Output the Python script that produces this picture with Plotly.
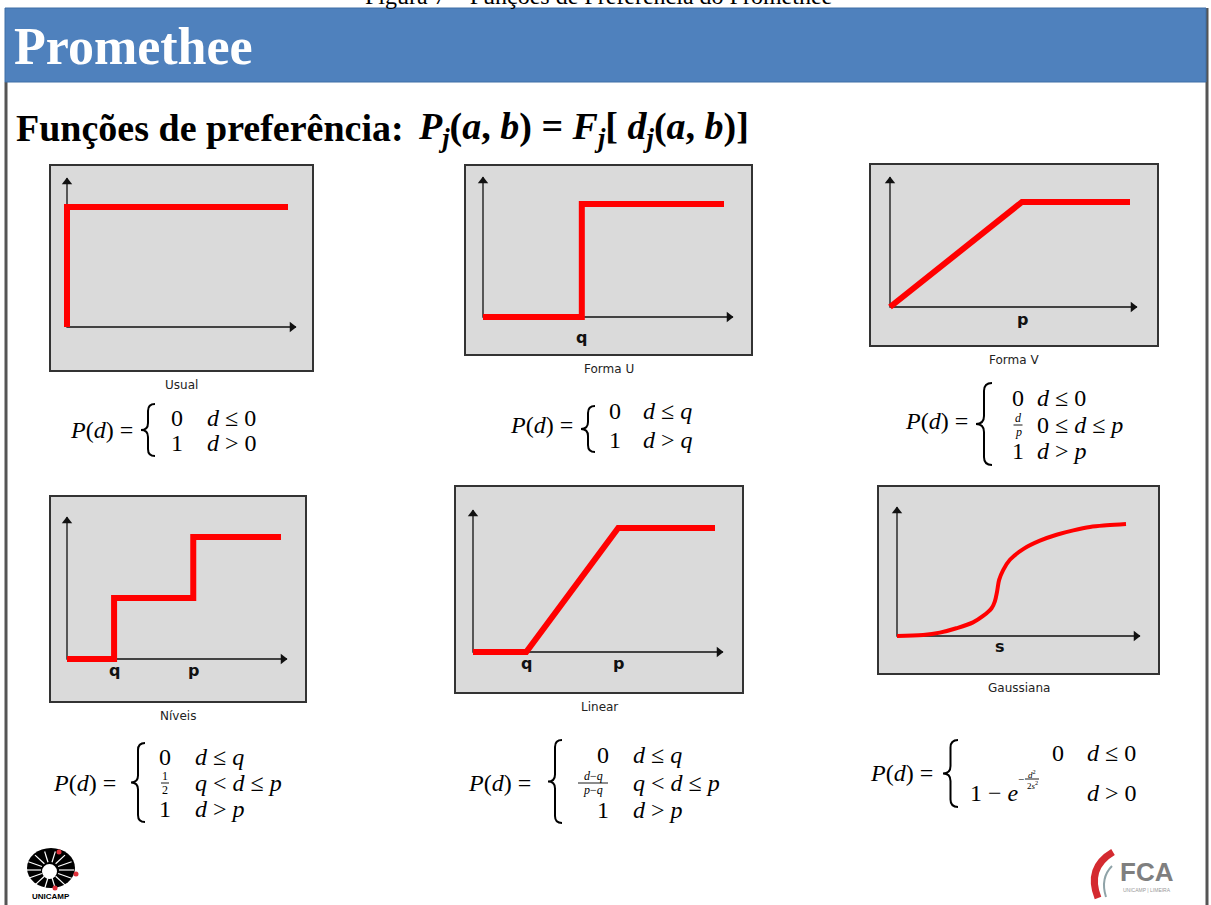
import numpy as np
import plotly.graph_objects as go

W, H = 1211, 905

# preference functions P(d): d in arbitrary units (0..10), P from 0 to 1
usual_d = [0, 0, 10]
usual_p = [0, 1, 1]
formaU_d = [0, 4.1, 4.1, 10]
formaU_p = [0, 0, 1, 1]
formaV_d = [0, 5.5, 10]
formaV_p = [0, 1, 1]
niveis_d = [0, 2.2, 2.2, 5.9, 5.9, 10]
niveis_p = [0, 0, 0.5, 0.5, 1, 1]
linear_d = [0, 2.2, 6.0, 10]
linear_p = [0, 0, 1, 1]
gauss_d = [0, 1.14, 1.87, 2.59, 3.32, 3.76, 4.13, 4.27, 4.37, 4.46, 4.64, 4.93,
           5.51, 6.24, 6.97, 7.70, 8.43, 9.15, 10]
gauss_p = [0, 0.009, 0.030, 0.069, 0.122, 0.179, 0.248, 0.307, 0.397, 0.501, 0.591, 0.681,
           0.776, 0.851, 0.904, 0.943, 0.973, 0.988, 1.0]

panel_names = ["Usual", "Forma U", "Forma V", "Níveis", "Linear", "Gaussiana"]
tick_labels = [[], ["q"], ["p"], ["q", "p"], ["q", "p"], ["s"]]
tick_at = [[], [4.1], [5.5], [2.2, 5.9], [2.2, 6.0], [4.5]]

series_d = [usual_d, formaU_d, formaV_d, niveis_d, linear_d, gauss_d]
series_p = [usual_p, formaU_p, formaV_p, niveis_p, linear_p, gauss_p]

# pixel layout of each small chart: box, origin, point (dmax, 1), arrow tips, label drop
panels = [
    dict(box=(51, 166, 312, 370), org=(67, 327), one=(288, 207), tip=(296, 178), drop=0),
    dict(box=(466, 166, 751, 354), org=(483, 317), one=(724, 204), tip=(733, 177), drop=9),
    dict(box=(871, 165, 1157, 345), org=(890, 307), one=(1130, 202), tip=(1137, 177), drop=1),
    dict(box=(51, 497, 305, 701), org=(67, 659), one=(281, 537), tip=(287, 517), drop=0),
    dict(box=(456, 487, 742, 692), org=(473, 652), one=(715, 528), tip=(723, 510), drop=0),
    dict(box=(879, 487, 1158, 673), org=(897, 636), one=(1126, 524), tip=(1140, 507), drop=-1),
]

SERIF = "Liberation Serif"
SANS = "DejaVu Sans"
RED = "#ff0000"


def px(x):
    return x / W


def py(y):
    return 1 - y / H


fig = go.Figure()

frame = dict(showline=True, mirror=True, linecolor="#333333", linewidth=1.5,
             showgrid=False, zeroline=False, showticklabels=False, ticks="",
             fixedrange=True)

for i, (d, p, pan) in enumerate(zip(series_d, series_p, panels)):
    s = "" if i == 0 else str(i + 1)
    L, T, R, B = pan["box"]
    ox, oy = pan["org"]
    ux = (pan["one"][0] - ox) / max(d)
    uy = (oy - pan["one"][1]) / max(p)
    tx = (pan["tip"][0] - ox) / ux
    ty = (oy - pan["tip"][1]) / uy
    fig.update_layout({
        f"xaxis{s}": dict(domain=[px(L), px(R)], range=[(L - ox) / ux, (R - ox) / ux],
                          anchor=f"y{s}", **frame),
        f"yaxis{s}": dict(domain=[py(B), py(T)], range=[(oy - B) / uy, (oy - T) / uy],
                          anchor=f"x{s}", **frame),
    })
    xa, ya = f"x{s}", f"y{s}"
    # axes with arrow heads
    fig.add_trace(go.Scatter(x=[tx, 0, 0], y=[0, 0, ty], mode="lines",
                             line=dict(color="#111111", width=1.3),
                             xaxis=xa, yaxis=ya, hoverinfo="skip"))
    fig.add_trace(go.Scatter(x=[tx - 4 / ux, 0], y=[0, ty - 4 / uy], mode="markers",
                             marker=dict(symbol=["triangle-right", "triangle-up"], size=9,
                                         color="#111111"),
                             xaxis=xa, yaxis=ya, hoverinfo="skip"))
    # red preference curve
    smooth = i == 5
    fig.add_trace(go.Scatter(x=d, y=p, mode="lines",
                             line=dict(color=RED, width=4 if smooth else 6,
                                       shape="spline" if smooth else "linear"),
                             xaxis=xa, yaxis=ya, hoverinfo="skip"))
    for lab, at in zip(tick_labels[i], tick_at[i]):
        fig.add_annotation(x=at, y=0, xref=xa, yref=ya, text=f"<b>{lab}</b>",
                           showarrow=False, xanchor="center", yanchor="top",
                           yshift=-pan["drop"],
                           font=dict(size=16, family=SANS, color="#111111"))
    fig.add_annotation(x=px((L + R) / 2), y=py(B + 15), xref="paper", yref="paper",
                       text=panel_names[i], showarrow=False, xanchor="center", yanchor="middle",
                       font=dict(size=12, family=SANS, color="#222222"))


def txt(x, y, s, size=24, xa="left", ya="middle", family=SERIF, color="black"):
    fig.add_annotation(x=px(x), y=py(y), xref="paper", yref="paper", text=s,
                       showarrow=False, xanchor=xa, yanchor=ya,
                       font=dict(size=size, family=family, color=color))


def hline(x0, x1, y, width=1.0, color="black"):
    fig.add_shape(type="line", xref="paper", yref="paper", x0=px(x0), x1=px(x1),
                  y0=py(y), y1=py(y), line=dict(color=color, width=width))


def frac(xc, yc, num, den, size=13, w=8):
    txt(xc, yc - size * 0.55, num, size, xa="center")
    txt(xc, yc + size * 0.62, den, size, xa="center")
    hline(xc - w / 2, xc + w / 2, yc, 0.9)


def pt(x, y):
    return f"{px(x):.5f},{py(y):.5f}"


def brace(x, y0, y1, w=14):
    xm, xr, ym, r = x + w / 2, x + w, (y0 + y1) / 2, w / 2
    path = (f"M {pt(xr, y0)} Q {pt(xm, y0)} {pt(xm, y0 + r)} L {pt(xm, ym - r)} "
            f"Q {pt(xm, ym)} {pt(x, ym)} Q {pt(xm, ym)} {pt(xm, ym + r)} "
            f"L {pt(xm, y1 - r)} Q {pt(xm, y1)} {pt(xr, y1)}")
    fig.add_shape(type="path", xref="paper", yref="paper", path=path,
                  line=dict(color="black", width=2))


PD = "<i>P</i>(<i>d</i>) ="

# Usual
txt(68, 430, PD)
brace(141, 404, 456)
txt(177, 418, "0", xa="center"); txt(205, 418, "<i>d</i> ≤ 0")
txt(177, 443, "1", xa="center"); txt(205, 443, "<i>d</i> > 0")

# Forma U
txt(508, 425, PD)
brace(581, 406, 452)
txt(615, 411, "0", xa="center"); txt(641, 411, "<i>d</i> ≤ <i>q</i>")
txt(615, 440, "1", xa="center"); txt(641, 440, "<i>d</i> > <i>q</i>")

# Forma V
txt(903, 421, PD)
brace(976, 383, 465, 16)
txt(1018, 398, "0", xa="center"); txt(1035, 398, "<i>d</i> ≤ 0")
frac(1018, 425, "<i>d</i>", "<i>p</i>", 12, 9); txt(1035, 425, "0 ≤ <i>d</i> ≤ <i>p</i>")
txt(1018, 451, "1", xa="center"); txt(1035, 451, "<i>d</i> > <i>p</i>")

# Niveis
txt(51, 783, PD)
brace(131, 743, 822)
txt(165, 757, "0", xa="center"); txt(193, 757, "<i>d</i> ≤ <i>q</i>")
frac(165, 783, "1", "2", 12, 8); txt(193, 783, "<i>q</i> < <i>d</i> ≤ <i>p</i>")
txt(165, 809, "1", xa="center"); txt(193, 809, "<i>d</i> > <i>p</i>")

# Linear
txt(466, 783, PD)
brace(548, 740, 823)
txt(611, 755, "0", xa="right"); txt(631, 755, "<i>d</i> ≤ <i>q</i>")
frac(593, 783, "<i>d</i>−<i>q</i>", "<i>p</i>−<i>q</i>", 12, 30)
txt(631, 783, "<i>q</i> < <i>d</i> ≤ <i>p</i>")
txt(611, 810, "1", xa="right"); txt(631, 810, "<i>d</i> > <i>p</i>")

# Gaussiana
txt(868, 773, PD)
brace(943, 740, 807, 15)
txt(1066, 753, "0", xa="right"); txt(1085, 753, "<i>d</i> ≤ 0")
txt(968, 793, "1 − <i>e</i>")
txt(1021, 779, "−", 11, xa="center")
frac(1032, 779, "<i>d</i><sup>2</sup>", "2<i>s</i><sup>2</sup>", 9, 14)
txt(1085, 793, "<i>d</i> > 0")

# slide frame and header
fig.add_shape(type="line", xref="paper", yref="paper", x0=px(6), x1=px(6), y0=py(82), y1=0,
              line=dict(color="#555555", width=3))
fig.add_shape(type="line", xref="paper", yref="paper", x0=px(1207), x1=px(1207), y0=py(8), y1=0,
              line=dict(color="#555555", width=3))
fig.add_shape(type="rect", xref="paper", yref="paper", x0=px(5), x1=px(1206), y0=py(82), y1=py(8),
              fillcolor="#4f81bd", line=dict(color="#3f6fa6", width=1))
txt(598, 11, "Figura 7 – Funções de Preferência do Promethee", 24, xa="center", ya="bottom")
txt(12, 46, "<b>Promethee</b>", 52, color="white")
txt(14, 128, "<b>Funções de preferência:</b>", 38)
txt(416, 129, "<b><i>P</i><sub><i>j</i></sub>(<i>a</i>, <i>b</i>) = "
              "<i>F</i><sub><i>j</i></sub>[ <i>d</i><sub><i>j</i></sub>(<i>a</i>, <i>b</i>)]</b>", 38)

# UNICAMP logo
fig.add_shape(type="circle", xref="paper", yref="paper", x0=px(27), x1=px(75), y0=py(888), y1=py(848),
              fillcolor="black", line=dict(width=0))
for ang in np.linspace(0, 2 * np.pi, 14, endpoint=False):
    fig.add_shape(type="line", xref="paper", yref="paper",
                  x0=px(50 + 9 * np.cos(ang)), y0=py(870 + 8 * np.sin(ang)),
                  x1=px(50 + 24 * np.cos(ang)), y1=py(870 + 19 * np.sin(ang)),
                  line=dict(color="white", width=1.2))
fig.add_shape(type="circle", xref="paper", yref="paper", x0=px(42), x1=px(57), y0=py(879), y1=py(864),
              fillcolor="white", line=dict(width=0))
for cx, cy in [(59, 852), (76, 874), (55, 888)]:
    fig.add_shape(type="circle", xref="paper", yref="paper", x0=px(cx - 2.5), x1=px(cx + 2.5),
                  y0=py(cy + 2.5), y1=py(cy - 2.5), fillcolor="#e0303a", line=dict(width=0))
txt(51, 896, "<b>UNICAMP</b>", 8, xa="center", family="Liberation Sans")

# FCA logo
fig.add_shape(type="path", xref="paper", yref="paper",
              path=f"M {pt(1113, 852)} Q {pt(1086, 868)} {pt(1098, 898)}",
              line=dict(color="#d42a30", width=7))
fig.add_shape(type="path", xref="paper", yref="paper",
              path=f"M {pt(1112, 866)} Q {pt(1100, 878)} {pt(1106, 897)}",
              line=dict(color="#8fa3a8", width=2))
txt(1118, 872, "<b>FCA</b>", 26, family="Liberation Sans", color="#7f7f7f")
txt(1121, 890, "UNICAMP | LIMEIRA", 5, family="Liberation Sans", color="#999999")

fig.update_layout(width=W, height=H, margin=dict(l=0, r=0, t=0, b=0),
                  paper_bgcolor="white", plot_bgcolor="#dadada", showlegend=False)
fig.write_html("out.html", config={"displayModeBar": False},
               post_script="document.body.style.margin = '0px';")
